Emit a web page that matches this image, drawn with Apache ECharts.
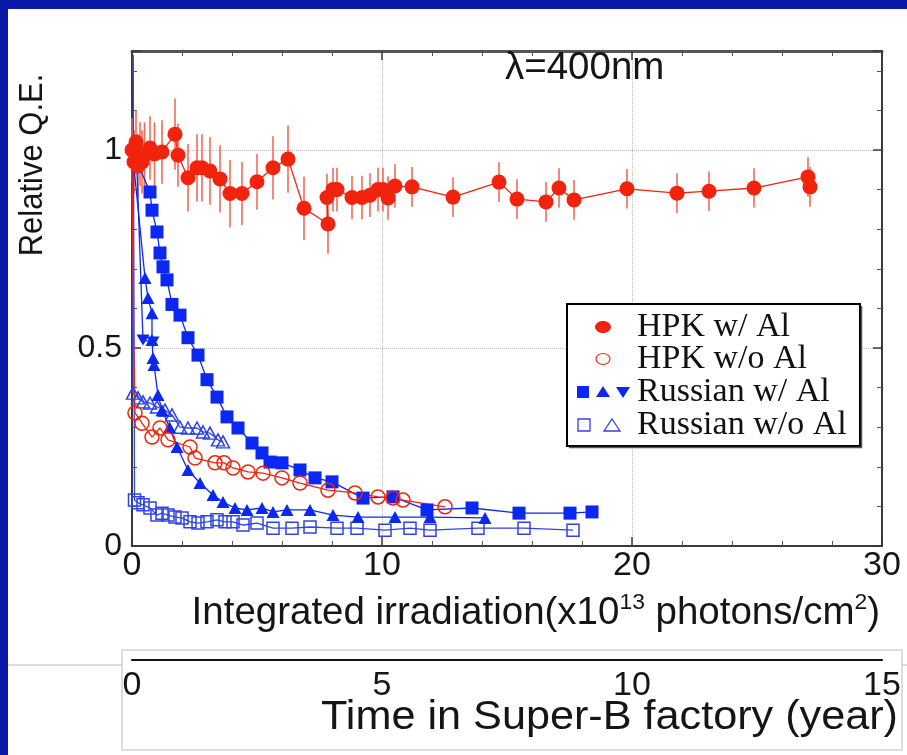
<!DOCTYPE html>
<html><head><meta charset="utf-8">
<script src="https://cdn.jsdelivr.net/npm/echarts@6/dist/echarts.min.js"></script>
<style>html,body{margin:0;padding:0;background:#fff}#c{width:907px;height:755px}</style>
</head><body><div id="c"></div>
<script>
// ---------------- DATA ----------------
const xTicks = [0, 10, 20, 30];
const yTicks = [0, 0.5, 1];
const yearTicks = [0, 5, 10, 15];

// HPK w/ Al (filled red circles, with error bars)
const hpkAlX = [0, 0.08, 0.16, 0.24, 0.32, 0.4, 0.5, 0.72, 0.9, 1.2, 1.72, 1.84, 2.24, 2.6, 2.8, 3.12, 3.52, 3.92, 4.4, 5.0, 5.64, 6.24, 6.88, 7.84, 7.8, 8.04, 8.2, 8.8, 9.2, 9.52, 9.84, 10.04, 10.24, 10.52, 11.2, 12.84, 14.68, 15.4, 16.56, 17.08, 17.68, 19.8, 21.8, 23.08, 24.88, 27.04, 27.12];
const hpkAlY = [1.0, 0.97, 1.02, 0.96, 0.99, 0.97, 0.99, 1.005, 0.99, 0.995, 1.04, 0.987, 0.93, 0.955, 0.955, 0.947, 0.927, 0.89, 0.89, 0.92, 0.955, 0.977, 0.853, 0.813, 0.88, 0.9, 0.9, 0.88, 0.88, 0.886, 0.9, 0.9, 0.879, 0.909, 0.907, 0.881, 0.919, 0.876, 0.869, 0.904, 0.874, 0.902, 0.891, 0.896, 0.904, 0.932, 0.907];
const hpkAlErr = [0.08, 0.08, 0.08, 0.08, 0.08, 0.08, 0.08, 0.08, 0.08, 0.08, 0.09, 0.08, 0.085, 0.085, 0.085, 0.085, 0.085, 0.085, 0.08, 0.07, 0.08, 0.085, 0.08, 0.075, 0.06, 0.055, 0.055, 0.055, 0.055, 0.055, 0.055, 0.055, 0.055, 0.055, 0.05, 0.05, 0.05, 0.05, 0.05, 0.05, 0.05, 0.05, 0.05, 0.05, 0.05, 0.05, 0.05];

// HPK w/o Al (open red circles); first points are line-only
const hpkNoAlX = [0, 0.06, 0.12, 0.4, 0.8, 1.12, 1.44, 2.32, 2.52, 3.32, 3.68, 4.04, 4.64, 5.24, 6.0, 6.72, 7.84, 8.92, 9.84, 10.44, 10.84, 12.52];
const hpkNoAlY = [1.0, 0.55, 0.336, 0.31, 0.275, 0.298, 0.268, 0.25, 0.222, 0.21, 0.21, 0.197, 0.187, 0.184, 0.172, 0.159, 0.141, 0.134, 0.124, 0.121, 0.116, 0.099];
const hpkNoAlLead = 2;

// Russian w/ Al : filled squares
const rusAlSqX = [0, 0.72, 0.8, 1.0, 1.12, 1.24, 1.4, 1.6, 1.92, 2.24, 2.64, 3.0, 3.4, 3.8, 4.24, 4.8, 5.2, 5.52, 6.0, 6.72, 7.32, 8.0, 9.24, 10.44, 11.8, 13.6, 15.48, 17.52, 18.4];
const rusAlSqY = [1.0, 0.894, 0.848, 0.793, 0.74, 0.705, 0.672, 0.61, 0.583, 0.526, 0.482, 0.42, 0.376, 0.326, 0.298, 0.26, 0.235, 0.212, 0.21, 0.192, 0.172, 0.162, 0.121, 0.124, 0.091, 0.096, 0.083, 0.083, 0.086];
const rusAlSqLead = 1;

// Russian w/ Al : filled up-triangles
const rusAlTriX = [0, 0.12, 0.52, 0.64, 0.8, 0.8, 0.84, 0.88, 1.04, 1.2, 1.5, 1.8, 2.24, 2.72, 3.24, 3.64, 4.12, 4.6, 5.2, 5.64, 6.2, 7.12, 8.04, 9.04, 10.52, 11.92, 14.12];
const rusAlTriY = [1.0, 0.93, 0.677, 0.626, 0.588, 0.52, 0.475, 0.457, 0.381, 0.343, 0.3, 0.25, 0.192, 0.159, 0.129, 0.111, 0.096, 0.091, 0.096, 0.086, 0.091, 0.091, 0.078, 0.073, 0.073, 0.073, 0.071];
const rusAlTriLead = 2;

// Russian w/ Al : filled down-triangles
const rusAlDownX = [0, 0.2, 0.44, 0.84];
const rusAlDownY = [1.0, 0.95, 0.52, 0.515];
const rusAlDownLead = 2;

// Russian w/o Al : open triangles
const rusNoTriX = [0, 0.04, 0.24, 0.44, 0.72, 1.0, 1.32, 1.6, 1.92, 2.24, 2.6, 2.84, 3.12, 3.44, 3.64];
const rusNoTriY = [1.0, 0.386, 0.374, 0.364, 0.361, 0.351, 0.343, 0.331, 0.3, 0.298, 0.298, 0.288, 0.285, 0.268, 0.263];
const rusNoTriLead = 1;

// Russian w/o Al : open squares
const rusNoSqX = [0.05, 0.1, 0.24, 0.44, 0.72, 1.0, 1.2, 1.44, 1.72, 2.0, 2.32, 2.64, 3.0, 3.4, 3.72, 4.04, 4.44, 5.0, 5.64, 6.4, 7.12, 8.2, 9.0, 10.12, 11.12, 11.92, 13.84, 15.68, 17.64];
const rusNoSqY = [1.24, 0.116, 0.109, 0.104, 0.096, 0.078, 0.083, 0.078, 0.073, 0.071, 0.061, 0.058, 0.061, 0.066, 0.061, 0.061, 0.053, 0.058, 0.045, 0.045, 0.048, 0.045, 0.045, 0.04, 0.045, 0.04, 0.045, 0.045, 0.04];
const rusNoSqLead = 1;

const legendNames = ['HPK w/ Al', 'HPK w/o Al', 'Russian w/ Al', 'Russian w/o Al'];

// ---------------- STYLE ----------------
const RED = '#f2230c';
const RED_ERR = '#f36a5a';
const BLUE = '#0b27f2';
const BLUE_OPEN = '#3043e6';
const SANS = '"Liberation Sans", Arial, Helvetica, sans-serif';
const SERIF = '"Liberation Serif", "Times New Roman", serif';

function pts(xs, ys, lead) {
  return xs.map((x, i) => i < (lead || 0) ? { value: [x, ys[i]], symbol: 'none' } : [x, ys[i]]);
}

function lineSeries(name, xs, ys, lead, symbol, size, color, filled, lineColor) {
  return {
    name: name, type: 'line', xAxisIndex: 0, yAxisIndex: 0, z: 3,
    data: pts(xs, ys, lead), symbol: symbol, symbolSize: size, showSymbol: true,
    showAllSymbol: true,
    itemStyle: filled ? { color: color, borderWidth: 0 } : { color: 'rgba(255,255,255,0)', borderColor: color, borderWidth: 1.5 },
    lineStyle: { color: lineColor || color, width: 1.3 },
    emphasis: { disabled: true },
    animation: false
  };
}

const errData = hpkAlX.map((x, i) => [x, hpkAlY[i], hpkAlErr[i]]);

const axisLineStyle = { color: '#3a3a3a', width: 2 };

const chart = echarts.init(document.getElementById('c'), null, { renderer: 'canvas' });

const triUp = 'path://M0,-10L10,8L-10,8Z';
const triDown = 'path://M0,10L10,-8L-10,-8Z';

function legendGraphics() {
  const g = [];
  const bx = 567, by = 304, bw = 293, bh = 142;
  g.push({ type: 'rect', z: 100, shape: { x: bx, y: by, width: bw, height: bh }, style: { fill: '#fff', stroke: '#000', lineWidth: 2 } });
  g.push({ type: 'polyline', z: 100, shape: { points: [[bx + 2, by + bh + 1.5], [bx + bw + 1.5, by + bh + 1.5], [bx + bw + 1.5, by + 2]] }, style: { stroke: '#555', lineWidth: 1.5, fill: null } });
  const rows = [327, 359, 392, 425];
  legendNames.forEach((n, i) => {
    g.push({ type: 'text', z: 101, x: 637, y: rows[i], scaleX: 1.03, scaleY: 1.05, style: { text: n, font: '33px ' + SERIF, fill: '#111', textAlign: 'left', textVerticalAlign: 'middle' } });
  });
  g.push({ type: 'ellipse', z: 101, shape: { cx: 603, cy: rows[0], rx: 8, ry: 6 }, style: { fill: RED } });
  g.push({ type: 'ellipse', z: 101, shape: { cx: 603, cy: rows[1], rx: 7, ry: 5.5 }, style: { fill: null, stroke: RED, lineWidth: 1.2 } });
  g.push({ type: 'rect', z: 101, shape: { x: 577, y: rows[2] - 6, width: 12, height: 12 }, style: { fill: BLUE } });
  g.push({ type: 'polygon', z: 101, shape: { points: [[603, rows[2] - 6], [610, rows[2] + 5], [596, rows[2] + 5]] }, style: { fill: BLUE } });
  g.push({ type: 'polygon', z: 101, shape: { points: [[616, rows[2] - 5], [630, rows[2] - 5], [623, rows[2] + 6]] }, style: { fill: BLUE } });
  g.push({ type: 'rect', z: 101, shape: { x: 578, y: rows[3] - 6, width: 12, height: 12 }, style: { fill: null, stroke: BLUE_OPEN, lineWidth: 1.3 } });
  g.push({ type: 'polygon', z: 101, shape: { points: [[612, rows[3] - 6], [620, rows[3] + 6], [604, rows[3] + 6]] }, style: { fill: null, stroke: BLUE_OPEN, lineWidth: 1.3 } });
  return g;
}

const option = {
  backgroundColor: '#ffffff',
  animation: false,
  grid: [
    { left: 132, right: 25, top: 51, bottom: 209, show: false },
    { left: 132, right: 25, top: 659, height: 1, show: false }
  ],
  xAxis: [
    {
      gridIndex: 0, type: 'value', min: xTicks[0], max: xTicks[xTicks.length - 1], interval: xTicks[1] - xTicks[0], position: 'bottom',
      axisLine: { show: true, onZero: false, lineStyle: axisLineStyle },
      axisTick: { show: true, inside: true, length: 9, lineStyle: { color: '#3a3a3a', width: 1.5 } },
      minorTick: { show: true, splitNumber: 5, length: 5, lineStyle: { color: '#555', width: 1 } },
      axisLabel: { fontSize: 34, color: '#151515', margin: 3, fontFamily: SANS },
      splitLine: { show: true, lineStyle: { color: '#bdbdbd', type: 'dotted', width: 1 } }
    },
    {
      gridIndex: 0, type: 'value', min: xTicks[0], max: xTicks[xTicks.length - 1], interval: xTicks[1] - xTicks[0], position: 'top',
      axisLine: { show: true, onZero: false, lineStyle: { color: '#555', width: 3 } },
      axisTick: { show: true, inside: true, length: 9, lineStyle: { color: '#3a3a3a', width: 1.5 } },
      minorTick: { show: true, splitNumber: 5, length: 5, lineStyle: { color: '#555', width: 1 } },
      axisLabel: { show: false }, splitLine: { show: false }
    },
    {
      gridIndex: 1, type: 'value', min: yearTicks[0], max: yearTicks[yearTicks.length - 1], interval: yearTicks[1] - yearTicks[0], position: 'bottom',
      axisLine: { show: true, onZero: false, lineStyle: { color: '#111', width: 2 } },
      axisTick: { show: false },
      axisLabel: { fontSize: 34, color: '#151515', margin: 9, fontFamily: SANS },
      splitLine: { show: false }
    }
  ],
  yAxis: [
    {
      gridIndex: 0, type: 'value', min: 0, max: 1.25, interval: 0.5, position: 'left',
      axisLine: { show: true, onZero: false, lineStyle: axisLineStyle },
      axisTick: { show: true, inside: true, length: 9, lineStyle: { color: '#3a3a3a', width: 1.5 } },
      minorTick: { show: true, splitNumber: 5, length: 5, lineStyle: { color: '#555', width: 1 } },
      axisLabel: { fontSize: 32, color: '#151515', margin: 10, fontFamily: SANS,
        formatter: v => (yTicks.indexOf(v) >= 0 ? String(v) : '') },
      splitLine: { show: true, lineStyle: { color: '#bdbdbd', type: 'dotted', width: 1 } }
    },
    {
      gridIndex: 0, type: 'value', min: 0, max: 1.25, interval: 0.5, position: 'right',
      axisLine: { show: true, onZero: false, lineStyle: axisLineStyle },
      axisTick: { show: true, inside: true, length: 9, lineStyle: { color: '#3a3a3a', width: 1.5 } },
      minorTick: { show: true, splitNumber: 5, length: 5, lineStyle: { color: '#555', width: 1 } },
      axisLabel: { show: false }, splitLine: { show: false }
    },
    { gridIndex: 1, type: 'value', min: 0, max: 1, show: false }
  ],
  series: [
    {
      name: 'errbars', type: 'custom', xAxisIndex: 0, yAxisIndex: 0, z: 2, data: errData, animation: false,
      renderItem: function (params, api) {
        const x = api.value(0), y = api.value(1), e = api.value(2);
        const p1 = api.coord([x, y - e]), p2 = api.coord([x, y + e]);
        return { type: 'line', shape: { x1: p1[0], y1: p1[1], x2: p2[0], y2: p2[1] }, style: { stroke: RED_ERR, lineWidth: 1.6 } };
      }
    },
    lineSeries('Russian w/o Al sq', rusNoSqX, rusNoSqY, rusNoSqLead, 'rect', 12, BLUE_OPEN, false),
    lineSeries('Russian w/o Al tri', rusNoTriX, rusNoTriY, rusNoTriLead, triUp, [13, 12], BLUE_OPEN, false),
    lineSeries('Russian w/ Al down', rusAlDownX, rusAlDownY, rusAlDownLead, triDown, [13, 11], BLUE, true),
    lineSeries('Russian w/ Al tri', rusAlTriX, rusAlTriY, rusAlTriLead, triUp, [13, 12], BLUE, true),
    lineSeries('Russian w/ Al sq', rusAlSqX, rusAlSqY, rusAlSqLead, 'rect', 13, BLUE, true),
    lineSeries('HPK w/o Al', hpkNoAlX, hpkNoAlY, hpkNoAlLead, 'circle', 14, RED, false),
    lineSeries('HPK w/ Al', hpkAlX, hpkAlY, 0, 'circle', 15, RED, true)
  ],
  graphic: [
    { type: 'line', z: -10, shape: { x1: 8, y1: 665, x2: 907, y2: 665 }, style: { stroke: '#cfcfcf', lineWidth: 1.5 } },
    { type: 'rect', z: -9, shape: { x: 122, y: 650, width: 780, height: 100 }, style: { fill: '#fff', stroke: '#d2d2d2', lineWidth: 1.5 } },
    { type: 'rect', z: 200, shape: { x: 0, y: 0, width: 907, height: 9 }, style: { fill: '#0a1aa8' } },
    { type: 'rect', z: 200, shape: { x: 0, y: 0, width: 8, height: 755 }, style: { fill: '#0a1aa8' } },
    { type: 'text', z: 50, x: 505, y: 68, scaleX: 1.04, scaleY: 1.05, style: { text: 'λ=400nm', font: '37px ' + SANS, fill: '#151515', textAlign: 'left', textVerticalAlign: 'middle' } },
    { type: 'text', z: 50, x: 33, y: 165, rotation: Math.PI / 2, scaleY: 1.05, style: { text: 'Relative Q.E.', font: '31px ' + SANS, fill: '#151515', textAlign: 'center', textVerticalAlign: 'middle' } },
    { type: 'text', z: 50, x: 880, y: 612, scaleX: 1.04, scaleY: 1.03, style: {
        text: '{a|Integrated irradiation(x10}{s|13}{a| photons/cm}{s|2}{a|)}',
        textAlign: 'right', textVerticalAlign: 'middle', fill: '#151515',
        rich: { a: { fontSize: 37, fontFamily: SANS, fill: '#151515', lineHeight: 40, verticalAlign: 'bottom' },
                s: { fontSize: 22, fontFamily: SANS, fill: '#151515', lineHeight: 40, verticalAlign: 'top' } } } },
    { type: 'text', z: 50, x: 898, y: 718, scaleX: 1.08, scaleY: 1.0, style: { text: 'Time in Super-B factory (year)', font: '40px ' + SANS, fill: '#151515', textAlign: 'right', textVerticalAlign: 'middle' } }
  ].concat(legendGraphics())
};

chart.setOption(option);
</script></body></html>
